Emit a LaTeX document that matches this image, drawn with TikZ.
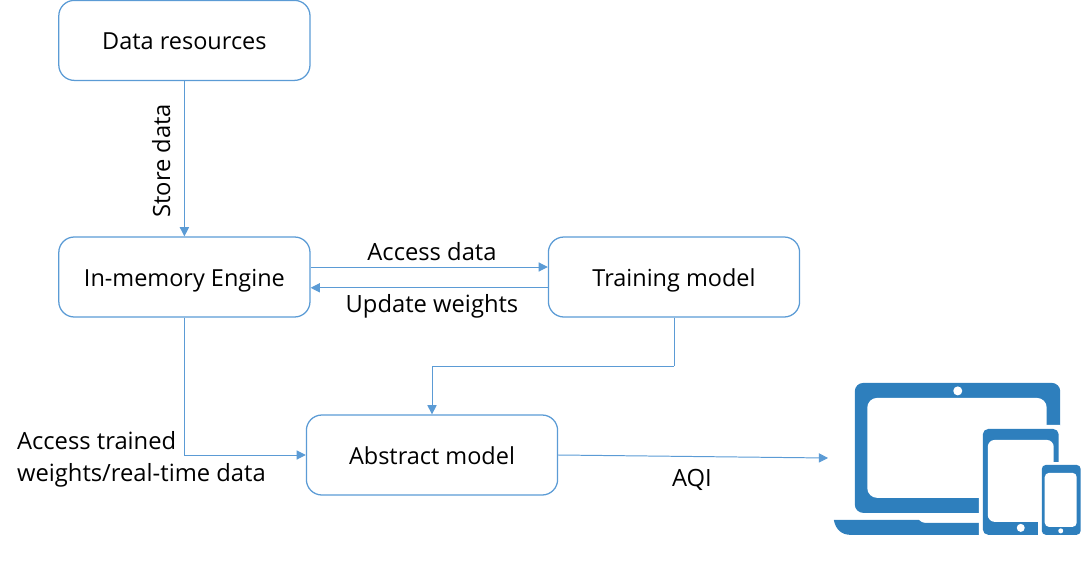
\documentclass[tikz,border=0pt]{standalone}
\usepackage{xcolor}
\usepackage{fontspec}
\setmainfont{Open Sans}
\usetikzlibrary{arrows.meta}
\definecolor{boxblue}{HTML}{5B9BD5}
\definecolor{iconblue}{HTML}{2E7FBD}
\begin{document}
\begin{tikzpicture}[
    box/.style={draw=boxblue, rounded corners=11pt, line width=0.9pt, minimum width=6.28cm, minimum height=2cm, align=center, text height=0.55cm, text depth=0.1cm, font=\fontsize{16.7}{20}\selectfont},
    arrow/.style={-{Triangle[length=6.5pt, width=6.5pt]}, boxblue, line width=0.7pt},
    branch/.style={boxblue, line width=0.7pt},
    lbl/.style={inner sep=0pt, font=\fontsize{16.9}{22.7}\selectfont},
    iconfill/.style={fill=iconblue, draw=none},
    iconhole/.style={fill=white, draw=none}
]
    \useasboundingbox (0,0) rectangle (27.2,14.25);

    % Three tiers of boxes, on a grid of 40 pixels to the centimetre.
    \node[box] (resources) at (4.61, 13.24) {Data resources};
    \node[box] (engine) at (4.61, 7.325) {In-memory Engine};
    \node[box] (training) at (16.85, 7.325) {Training model};
    \node[box] (abstract) at (10.8, 2.875) {Abstract model};

    \coordinate (bend) at (16.85, 5.1);
    \coordinate (device) at (20.7, 2.8);

    \draw[arrow] (resources) -- (engine);
    \draw[arrow] ([yshift=0.25cm]engine.east) -- ([yshift=0.25cm]training.west);
    \draw[arrow] ([yshift=-0.27cm]training.west) -- ([yshift=-0.27cm]engine.east);
    \draw[arrow] (engine.south) |- (abstract.west);
    \draw[branch] (training.south) -- (bend);
    \draw[arrow] (bend) -| (abstract.north);
    \draw[arrow] (abstract.east) -- (device);

    % Labels sit beside their connectors.
    \node[lbl, rotate=90] (store) at (4.03, 10.23) {Store data};
    \node[lbl] (access) at (10.8, 7.97) {Access data};
    \node[lbl] (update) at (10.8, 6.58) {Update weights};
    \node[lbl, align=left, anchor=west] (trained) at (0.42, 2.77) {Access trained\\weights/real-time data};
    \node[lbl] (aqi) at (17.3, 2.25) {AQI};

    % Devices, layered back to front, in pixel units.
    \begin{scope}[shift={(0,14.25)}, x=0.025cm, y=-0.025cm]
        \fill[iconfill, rounded corners=6pt] (855,383) rectangle (1060.5,513);
        \fill[iconhole, rounded corners=7pt] (867.5,398) rectangle (1047,498);
        \fill[iconhole] (958,391) circle (4.5);
        \fill[iconfill] (834,520) -- (919,520) .. controls (921,522) and (923,523) .. (925,523) -- (979,523) -- (980,535) -- (851,535) .. controls (842,535) and (836,530) .. (834,520) -- cycle;
        \fill[iconhole] (979,425) -- (1060.5,425) -- (1062,428) -- (1088,428) -- (1088,540) -- (979,540) -- cycle;
        \fill[iconfill, rounded corners=4pt] (983,429) rectangle (1059,535);
        \fill[iconhole, rounded corners=5pt] (988,440) rectangle (1054,522);
        \fill[iconhole] (1021,528) circle (4);
        \fill[iconhole] (1038,462) rectangle (1088,540);
        \fill[iconfill, rounded corners=3pt] (1042,465) rectangle (1081,535);
        \fill[iconhole, rounded corners=3pt] (1045,473) rectangle (1077,527);
        \fill[iconhole] (1061,531) circle (2.5);
    \end{scope}
\end{tikzpicture}
\end{document}
